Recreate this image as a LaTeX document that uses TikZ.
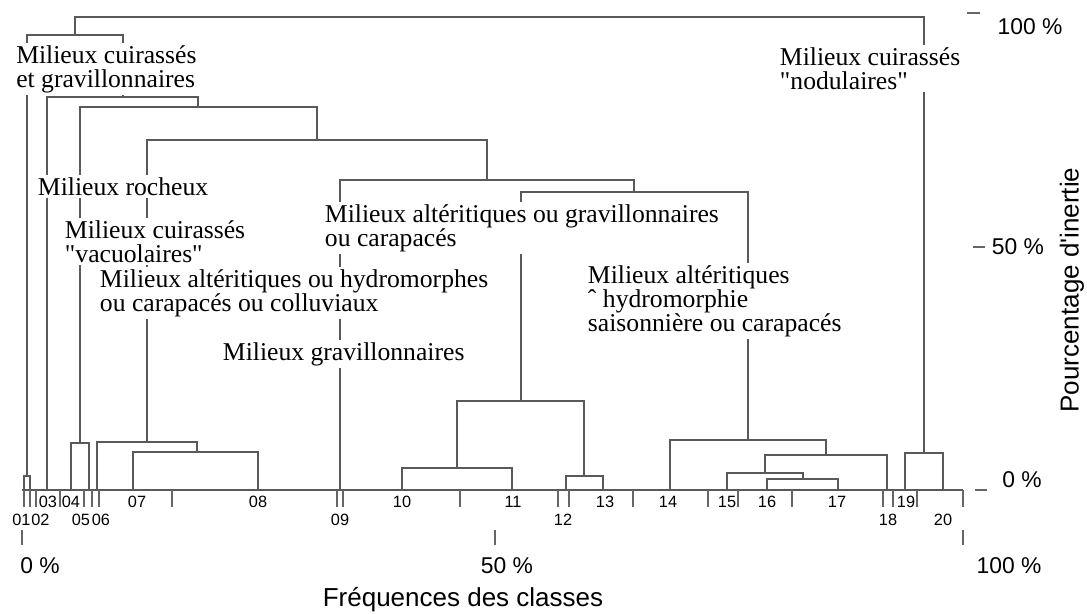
\documentclass[tikz,border=0pt]{standalone}
\usepackage{fontspec}
\setmainfont{Liberation Serif}
\setsansfont{Liberation Sans}
\begin{document}
\begin{tikzpicture}[
    x=0.02cm, y=-0.02cm,
    link/.style={draw=black!65, line width=1pt},
    tickmark/.style={draw=black!60, line width=0.9pt},
    grp/.style={font=\fontsize{14.6}{13.6}\selectfont, align=left, anchor=north west, fill=white, inner sep=1.2pt},
    num/.style={font=\sffamily\fontsize{9.3}{10}\selectfont, inner sep=0pt},
    pct/.style={font=\sffamily\fontsize{13}{14}\selectfont, inner sep=0pt},
    axtitle/.style={font=\sffamily\fontsize{14.8}{16}\selectfont, inner sep=0pt}
]
    \useasboundingbox (0,0) rectangle (1087,614);

    % classes on the frequency axis
    \foreach \n/\xx in {01/24,02/30,03/47,04/71,05/89,06/97,07/133,08/258,09/340,10/402,
                        11/512,12/566,13/603,14/670,15/727,16/767,17/838,18/887,19/905,20/943}
        \coordinate (l\n) at (\xx,490);

    % merge points
    \coordinate (m0102) at (27,476);
    \coordinate (m0405) at (80,443);
    \coordinate (m0708) at (197,452);
    \coordinate (m0608) at (147,442);
    \coordinate (m1011) at (457,468);
    \coordinate (m1213) at (584,476);
    \coordinate (m1013) at (521,401);
    \coordinate (m1617) at (803,479);
    \coordinate (m1517) at (765,473);
    \coordinate (m1518) at (826,455);
    \coordinate (m1418) at (748,440);
    \coordinate (m1018) at (634,192);
    \coordinate (m0918) at (487,180);
    \coordinate (m0618) at (317,140);
    \coordinate (m0418) at (198,107);
    \coordinate (m0318) at (123,97);
    \coordinate (m0118) at (75,35);
    \coordinate (m1920) at (924,453);
    \coordinate (root) at (499,17);

    % dendrogram
    \draw[link] (l01) |- (m0102) -| (l02);
    \draw[link] (l04) |- (m0405) -| (l05);
    \draw[link] (l07) |- (m0708) -| (l08);
    \draw[link] (l06) |- (m0608) -| (m0708);
    \draw[link] (l10) |- (m1011) -| (l11);
    \draw[link] (l12) |- (m1213) -| (l13);
    \draw[link] (m1011) |- (m1013) -| (m1213);
    \draw[link] (l16) |- (m1617) -| (l17);
    \draw[link] (l15) |- (m1517) -| (m1617);
    \draw[link] (m1517) |- (m1518) -| (l18);
    \draw[link] (l14) |- (m1418) -| (m1518);
    \draw[link] (m1013) |- (m1018) -| (m1418);
    \draw[link] (l09) |- (m0918) -| (m1018);
    \draw[link] (m0608) |- (m0618) -| (m0918);
    \draw[link] (m0405) |- (m0418) -| (m0618);
    \draw[link] (l03) |- (m0318) -| (m0418);
    \draw[link] (m0102) |- (m0118) -| (m0318);
    \draw[link] (l19) |- (m1920) -| (l20);
    \draw[link] (m0118) |- (root) -| (m1920);

    % frequency axis
    \coordinate (ax0) at (22,490);
    \coordinate (ax1) at (963,490);
    \draw[link] (ax0) -- (ax1);
    \foreach \xx in {24,30,36,60,84,92,99,172,337,343,460,558,569,633,708,738,792,883,893,917,963}
        \draw[tickmark] (\xx,490) -- (\xx,507);

    % group labels
    \node[grp] (gCuirGrav) at (13.8,43) {Milieux cuirassés\\et gravillonnaires};
    \node[grp] (gNodul) at (777.5,45) {Milieux cuirassés\\\textquotedbl nodulaires\textquotedbl};
    \node[grp] (gRoch) at (35.5,175) {Milieux rocheux};
    \node[grp] (gVacuo) at (62.5,218) {Milieux cuirassés\\\textquotedbl vacuolaires\textquotedbl};
    \node[grp] (gHydro) at (97.5,267) {Milieux altéritiques ou hydromorphes\\ou carapacés ou colluviaux};
    \node[grp] (gGrav) at (220.5,340) {Milieux gravillonnaires};
    \node[grp] (gAltGrav) at (322.5,202) {Milieux altéritiques ou gravillonnaires\\ou carapacés};
    \node[grp] (gSaison) at (585.5,263) {Milieux altéritiques\\ˆ hydromorphie\\saisonnière ou carapacés};

    % class numbers
    \foreach \n/\xx in {03/48,04/71,07/137,08/258,10/402,11/513,13/605,14/668,15/727,16/767,17/837,19/906}
        \node[num] (n\n) at (\xx,502) {\n};
    \foreach \n/\xx in {01/21.5,02/40.5,05/81,06/101,09/340,12/563,18/888,20/943}
        \node[num] (n\n) at (\xx,520) {\n};

    % scales
    \foreach \xx/\lab/\lx in {22/0/40,495/50/507,963/100/1009} {
        \draw[tickmark] (\xx,530) -- (\xx,545);
        \node[pct] (fq\lab) at (\lx,566) {\lab\ \%};
    }
    \node[axtitle] (fqTitle) at (463,600) {Fréquences des classes};

    \draw[tickmark] (967,13) -- (980,13);
    \node[pct] (in100) at (1030,27) {100 \%};
    \draw[tickmark] (973,247) -- (985,247);
    \node[pct] (in50) at (1018,247) {50 \%};
    \draw[tickmark] (975,490) -- (987,490);
    \node[pct] (in0) at (1022,480) {0 \%};
    \node[axtitle, rotate=90] (inTitle) at (1072,290) {Pourcentage d\textquotesingle inertie};
\end{tikzpicture}
\end{document}
